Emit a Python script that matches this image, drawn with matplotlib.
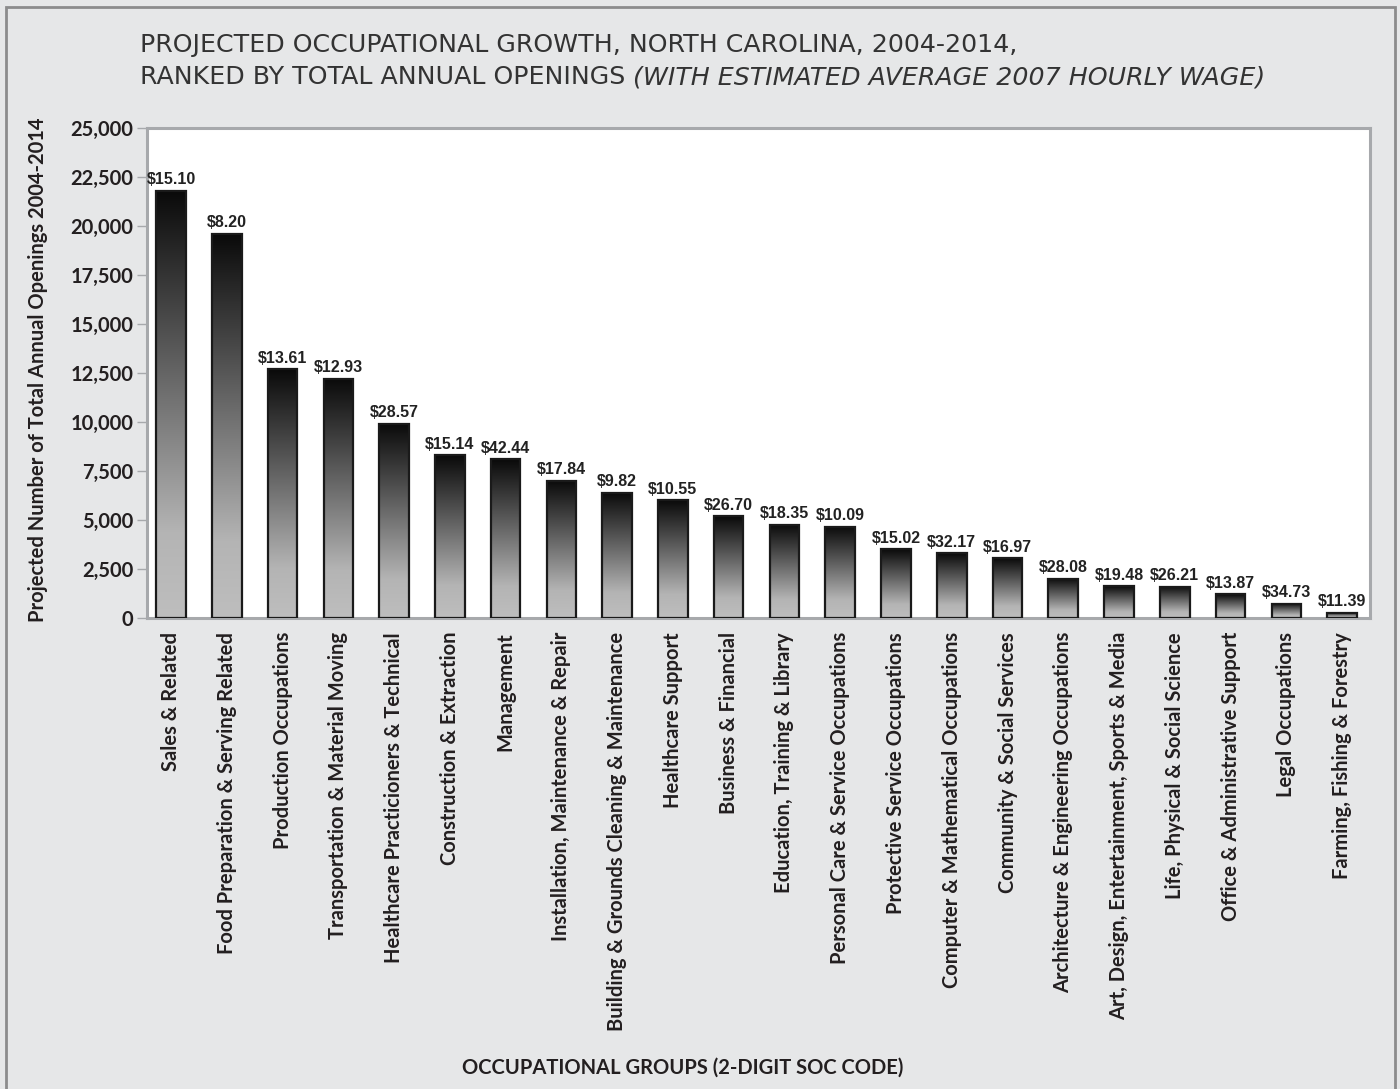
import numpy as np
import matplotlib
matplotlib.use("Agg")
import matplotlib.pyplot as plt
from matplotlib.colors import LinearSegmentedColormap
from matplotlib.patches import Rectangle

# data
groups = ["Sales & Related", "Food Preparation & Serving Related", "Production Occupations",
          "Transportation & Material Moving", "Healthcare Practicioners & Technical",
          "Construction & Extraction", "Management", "Installation, Maintenance & Repair",
          "Building & Grounds Cleaning & Maintenance", "Healthcare Support", "Business & Financial",
          "Education, Training & Library", "Personal Care & Service Occupations",
          "Protective Service Occupations", "Computer & Mathematical Occupations",
          "Community & Social Services", "Architecture & Engineering Occupations",
          "Art, Design, Entertainment, Sports & Media", "Life, Physical & Social Science",
          "Office & Administrative Support", "Legal Occupations", "Farming, Fishing & Forestry"]
openings = [21800, 19600, 12700, 12200, 9900, 8300, 8100, 7000, 6400, 6000, 5200,
            4750, 4650, 3500, 3300, 3050, 2000, 1620, 1600, 1200, 730, 270]
wages = ["$15.10", "$8.20", "$13.61", "$12.93", "$28.57", "$15.14", "$42.44", "$17.84",
         "$9.82", "$10.55", "$26.70", "$18.35", "$10.09", "$15.02", "$32.17", "$16.97",
         "$28.08", "$19.48", "$26.21", "$13.87", "$34.73", "$11.39"]
yticks = [0, 2500, 5000, 7500, 10000, 12500, 15000, 17500, 20000, 22500, 25000]

bg = "#e6e7e8"
ink = "#231f20"
fig = plt.figure(figsize=(14, 10.89), dpi=100, facecolor=bg)
ax = fig.add_axes([147/1400, 1 - 618/1089, (1370-147)/1400, 490/1089])
ax.set_facecolor("white")

cmap = LinearSegmentedColormap.from_list("g", [(0, "#bebebe"), (0.2, "#b4b4b4"), (1, "#0a0a0a")])
grad = np.linspace(0, 1, 256).reshape(-1, 1)
w = 0.53
x = np.arange(len(groups))
for i, v in enumerate(openings):
    ax.imshow(grad, extent=[i - w/2, i + w/2, 0, v], origin="lower", aspect="auto",
              cmap=cmap, zorder=2, interpolation="bilinear")
ax.bar(x, openings, width=w, facecolor="none", edgecolor="#1a1a1a", linewidth=1.6, zorder=3)
for i, v in enumerate(openings):
    ax.annotate(wages[i], (i, v), xytext=(0, 2.5), textcoords="offset points", ha="center",
                va="bottom", fontsize=11.5, family="Liberation Sans", weight="bold",
                color="#222222")

ax.set_xlim(-0.43, 21.5)
ax.set_ylim(0, 25000)
ax.set_yticks(yticks)
ax.set_yticklabels([f"{t:,}" for t in yticks], family="Lato", weight="bold",
                   fontsize=14.5, color=ink)
ax.set_xticks(x)
ax.set_xticklabels(groups, rotation=90, ha="center", va="top", family="Lato",
                   weight="bold", fontsize=14.5, color=ink)
ax.tick_params(axis="x", length=0, pad=10)
ax.tick_params(axis="y", length=7, width=1, color="#a7a9ac", pad=3)
for s in ax.spines.values():
    s.set_color("#a7a9ac")
    s.set_linewidth(2.2)

fig.text(38/1400, 1 - 370/1089, "Projected Number of Total Annual Openings 2004-2014",
         rotation=90, ha="center", va="center", family="Lato", weight="bold",
         fontsize=14.5, color=ink)
fig.text(683/1400, 1 - 1068/1089, "OCCUPATIONAL GROUPS (2-DIGIT SOC CODE)", ha="center",
         va="center", family="Lato", weight="bold", fontsize=14.5, color=ink)

tkw = dict(family="DejaVu Sans", fontsize=18.2, color="#333333")
fig.text(140/1400, 1 - 45/1089, "PROJECTED OCCUPATIONAL GROWTH, NORTH CAROLINA, 2004-2014,",
         va="center", ha="left", **tkw)
t2 = fig.text(140/1400, 1 - 77/1089, "RANKED BY TOTAL ANNUAL OPENINGS ", va="center",
              ha="left", **tkw)
ax.annotate("(WITH ESTIMATED AVERAGE 2007 HOURLY WAGE)", xy=(1, 0.5), xycoords=t2,
            va="center", ha="left", style="italic", annotation_clip=False, **tkw)

fig.patches.append(Rectangle((6/1400, -0.02), (1395-6)/1400, 1.02 - 7/1089,
                             transform=fig.transFigure, fill=False, edgecolor="#8c8c8c",
                             linewidth=2))

fig.savefig("out.png", dpi=100, facecolor=bg)
